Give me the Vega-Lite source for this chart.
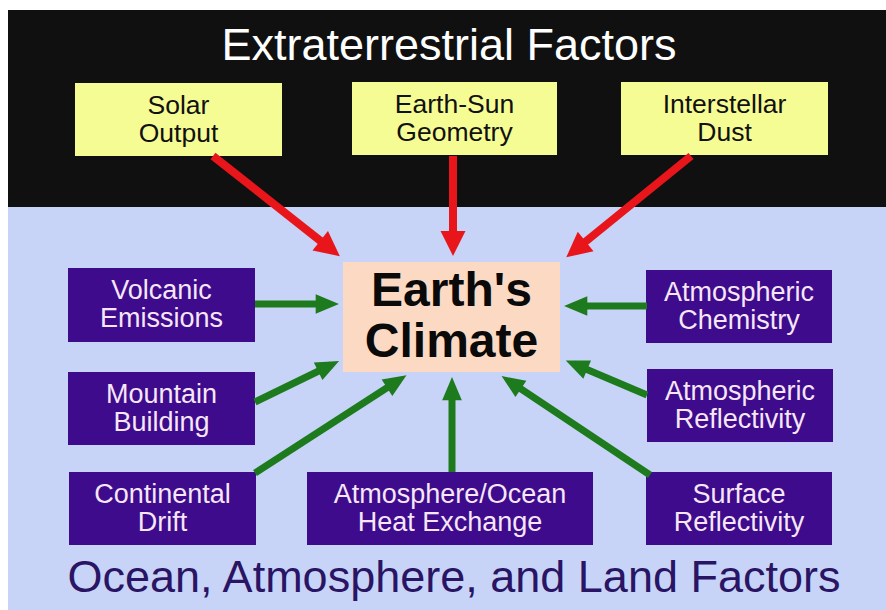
{
  "$schema": "https://vega.github.io/schema/vega-lite/v6.json",
  "width": 886,
  "height": 610,
  "autosize": {"type": "fit", "contains": "padding"},
  "padding": 0,
  "background": "white",
  "config": {"view": {"stroke": null}},
  "datasets": {
    "panels": [
      {"kind": "space", "x1": 8, "x2": 886, "y1": 10, "y2": 207},
      {"kind": "earth", "x1": 8, "x2": 886, "y1": 207, "y2": 610}
    ],
    "boxes": [
      {"kind": "extra", "label": "Solar\nOutput", "x1": 75, "x2": 282, "y1": 83, "y2": 156},
      {"kind": "extra", "label": "Earth-Sun\nGeometry", "x1": 352, "x2": 557, "y1": 82, "y2": 155},
      {"kind": "extra", "label": "Interstellar\nDust", "x1": 621, "x2": 828, "y1": 82, "y2": 155},
      {"kind": "terra", "label": "Volcanic\nEmissions", "x1": 68, "x2": 255, "y1": 268, "y2": 342},
      {"kind": "terra", "label": "Mountain\nBuilding", "x1": 68, "x2": 255, "y1": 372, "y2": 445},
      {"kind": "terra", "label": "Continental\nDrift", "x1": 69, "x2": 256, "y1": 472, "y2": 545},
      {"kind": "terra", "label": "Atmosphere/Ocean\nHeat Exchange", "x1": 307, "x2": 593, "y1": 472, "y2": 545},
      {"kind": "terra", "label": "Atmospheric\nChemistry", "x1": 646, "x2": 832, "y1": 270, "y2": 343},
      {"kind": "terra", "label": "Atmospheric\nReflectivity", "x1": 647, "x2": 833, "y1": 369, "y2": 442},
      {"kind": "terra", "label": "Surface\nReflectivity", "x1": 646, "x2": 832, "y1": 472, "y2": 545},
      {"kind": "climate", "label": "Earth's\nClimate", "x1": 343, "x2": 560, "y1": 262, "y2": 372}
    ],
    "arrows": [
      {"kind": "red", "x1": 213, "y1": 156, "x2": 332, "y2": 250},
      {"kind": "red", "x1": 453, "y1": 156, "x2": 453, "y2": 246},
      {"kind": "red", "x1": 691, "y1": 156, "x2": 574, "y2": 251},
      {"kind": "green", "x1": 255, "y1": 304, "x2": 330, "y2": 304},
      {"kind": "green", "x1": 255, "y1": 402, "x2": 331, "y2": 365},
      {"kind": "green", "x1": 255, "y1": 473, "x2": 399, "y2": 380},
      {"kind": "green", "x1": 452, "y1": 472, "x2": 452, "y2": 386},
      {"kind": "green", "x1": 647, "y1": 306, "x2": 573, "y2": 306},
      {"kind": "green", "x1": 647, "y1": 395, "x2": 574, "y2": 364},
      {"kind": "green", "x1": 650, "y1": 475, "x2": 509, "y2": 381}
    ],
    "titles": [
      {"kind": "top", "text": "Extraterrestrial Factors", "x": 449, "y": 60},
      {"kind": "bottom", "text": "Ocean, Atmosphere, and Land Factors", "x": 454, "y": 592}
    ]
  },
  "encoding": {},
  "layer": [
    {
      "data": {"name": "panels"},
      "transform": [{"filter": "datum.kind === 'space'"}],
      "mark": {"type": "rect", "fill": "#101010"},
      "encoding": {
        "x": {"field": "x1", "type": "quantitative", "scale": {"domain": [0, 886], "nice": false, "zero": false}, "axis": null},
        "x2": {"field": "x2"},
        "y": {"field": "y1", "type": "quantitative", "scale": {"domain": [0, 610], "nice": false, "zero": false, "reverse": true}, "axis": null},
        "y2": {"field": "y2"}
      }
    },
    {
      "data": {"name": "panels"},
      "transform": [{"filter": "datum.kind === 'earth'"}],
      "mark": {"type": "rect", "fill": "#c7d4f8"},
      "encoding": {
        "x": {"field": "x1", "type": "quantitative", "axis": null},
        "x2": {"field": "x2"},
        "y": {"field": "y1", "type": "quantitative", "axis": null},
        "y2": {"field": "y2"}
      }
    },
    {
      "data": {"name": "boxes"},
      "transform": [{"filter": "datum.kind === 'extra'"}],
      "mark": {"type": "rect", "fill": "#f6fc94"},
      "encoding": {
        "x": {"field": "x1", "type": "quantitative", "axis": null},
        "x2": {"field": "x2"},
        "y": {"field": "y1", "type": "quantitative", "axis": null},
        "y2": {"field": "y2"}
      }
    },
    {
      "data": {"name": "boxes"},
      "transform": [{"filter": "datum.kind === 'terra'"}],
      "mark": {"type": "rect", "fill": "#3d0b8c"},
      "encoding": {
        "x": {"field": "x1", "type": "quantitative", "axis": null},
        "x2": {"field": "x2"},
        "y": {"field": "y1", "type": "quantitative", "axis": null},
        "y2": {"field": "y2"}
      }
    },
    {
      "data": {"name": "boxes"},
      "transform": [{"filter": "datum.kind === 'climate'"}],
      "mark": {"type": "rect", "fill": "#fcd9c3"},
      "encoding": {
        "x": {"field": "x1", "type": "quantitative", "axis": null},
        "x2": {"field": "x2"},
        "y": {"field": "y1", "type": "quantitative", "axis": null},
        "y2": {"field": "y2"}
      }
    },
    {
      "data": {"name": "arrows"},
      "transform": [{"filter": "datum.kind === 'red'"}],
      "mark": {"type": "rule", "stroke": "#e8161b", "strokeWidth": 8},
      "encoding": {
        "x": {"field": "x1", "type": "quantitative", "axis": null},
        "x2": {"field": "x2"},
        "y": {"field": "y1", "type": "quantitative", "axis": null},
        "y2": {"field": "y2"}
      }
    },
    {
      "data": {"name": "arrows"},
      "transform": [
        {"filter": "datum.kind === 'red'"},
        {"calculate": "atan2(datum.x2 - datum.x1, -(datum.y2 - datum.y1)) * 180 / PI", "as": "ang"}
      ],
      "mark": {"type": "point", "shape": "M0,-1L1.25,1.5L-1.25,1.5Z", "filled": true, "fill": "#e8161b", "opacity": 1, "strokeWidth": 0, "size": 400},
      "encoding": {
        "x": {"field": "x2", "type": "quantitative", "axis": null},
        "y": {"field": "y2", "type": "quantitative", "axis": null},
        "angle": {"field": "ang", "type": "quantitative", "scale": null}
      }
    },
    {
      "data": {"name": "arrows"},
      "transform": [{"filter": "datum.kind === 'green'"}],
      "mark": {"type": "rule", "stroke": "#1d7a1d", "strokeWidth": 7},
      "encoding": {
        "x": {"field": "x1", "type": "quantitative", "axis": null},
        "x2": {"field": "x2"},
        "y": {"field": "y1", "type": "quantitative", "axis": null},
        "y2": {"field": "y2"}
      }
    },
    {
      "data": {"name": "arrows"},
      "transform": [
        {"filter": "datum.kind === 'green'"},
        {"calculate": "atan2(datum.x2 - datum.x1, -(datum.y2 - datum.y1)) * 180 / PI", "as": "ang"}
      ],
      "mark": {"type": "point", "shape": "M0,-1L1.1,1.6L-1.1,1.6Z", "filled": true, "fill": "#1d7a1d", "opacity": 1, "strokeWidth": 0, "size": 320},
      "encoding": {
        "x": {"field": "x2", "type": "quantitative", "axis": null},
        "y": {"field": "y2", "type": "quantitative", "axis": null},
        "angle": {"field": "ang", "type": "quantitative", "scale": null}
      }
    },
    {
      "data": {"name": "boxes"},
      "transform": [
        {"filter": "datum.kind === 'extra'"},
        {"calculate": "(datum.x1 + datum.x2) / 2", "as": "cx"},
        {"calculate": "(datum.y1 + datum.y2) / 2", "as": "cy"}
      ],
      "mark": {"type": "text", "font": "Liberation Sans", "fontSize": 26.5, "lineHeight": 28, "lineBreak": "\n", "align": "center", "baseline": "middle", "dy": -14, "fill": "#111111"},
      "encoding": {
        "x": {"field": "cx", "type": "quantitative", "axis": null},
        "y": {"field": "cy", "type": "quantitative", "axis": null},
        "text": {"field": "label"}
      }
    },
    {
      "data": {"name": "boxes"},
      "transform": [
        {"filter": "datum.kind === 'terra'"},
        {"calculate": "(datum.x1 + datum.x2) / 2", "as": "cx"},
        {"calculate": "(datum.y1 + datum.y2) / 2", "as": "cy"}
      ],
      "mark": {"type": "text", "font": "Liberation Sans", "fontSize": 27, "lineHeight": 28, "lineBreak": "\n", "align": "center", "baseline": "middle", "dy": -14, "fill": "#f6e6f6"},
      "encoding": {
        "x": {"field": "cx", "type": "quantitative", "axis": null},
        "y": {"field": "cy", "type": "quantitative", "axis": null},
        "text": {"field": "label"}
      }
    },
    {
      "data": {"name": "boxes"},
      "transform": [
        {"filter": "datum.kind === 'climate'"},
        {"calculate": "(datum.x1 + datum.x2) / 2", "as": "cx"},
        {"calculate": "(datum.y1 + datum.y2) / 2", "as": "cy"}
      ],
      "mark": {"type": "text", "font": "Liberation Sans", "fontSize": 48, "fontWeight": "bold", "lineHeight": 51, "lineBreak": "\n", "align": "center", "baseline": "middle", "dy": -25.5, "fill": "#0a0a0a"},
      "encoding": {
        "x": {"field": "cx", "type": "quantitative", "axis": null},
        "y": {"field": "cy", "type": "quantitative", "axis": null},
        "text": {"field": "label"}
      }
    },
    {
      "data": {"name": "titles"},
      "transform": [{"filter": "datum.kind === 'top'"}],
      "mark": {"type": "text", "font": "Liberation Sans", "fontSize": 45, "align": "center", "baseline": "alphabetic", "fill": "#ffffff"},
      "encoding": {
        "x": {"field": "x", "type": "quantitative", "axis": null},
        "y": {"field": "y", "type": "quantitative", "axis": null},
        "text": {"field": "text"}
      }
    },
    {
      "data": {"name": "titles"},
      "transform": [{"filter": "datum.kind === 'bottom'"}],
      "mark": {"type": "text", "font": "Liberation Sans", "fontSize": 45, "align": "center", "baseline": "alphabetic", "fill": "#2a1464"},
      "encoding": {
        "x": {"field": "x", "type": "quantitative", "axis": null},
        "y": {"field": "y", "type": "quantitative", "axis": null},
        "text": {"field": "text"}
      }
    }
  ]
}
